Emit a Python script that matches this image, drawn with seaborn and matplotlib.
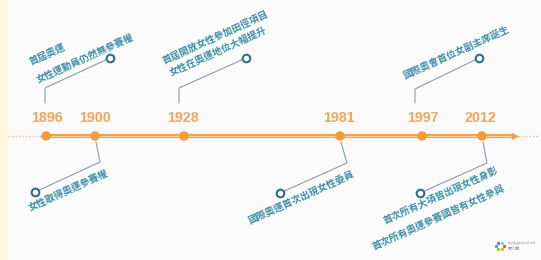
import math
import matplotlib
matplotlib.use("Agg")
import matplotlib.pyplot as plt
import seaborn as sns
import pandas as pd

# timeline content
years = [1896, 1900, 1928, 1981, 1997, 2012]
events = [
    ["首屆奧運", "女性運動員仍然無參賽權"],
    ["女性取得奧運參賽權"],
    ["首屆開放女性參加田徑項目", "女性在奧運地位大幅提升"],
    ["國際奧運首次出現女性委員"],
    ["國際奧會首位女副主席誕生"],
    ["首次所有大項皆出現女性身影", "首次所有奧運參賽國皆有女性參與"],
]
sides = ["up", "down", "up", "down", "up", "down"]

# layout (pixel coords of the infographic)
AXIS_Y = 136
dot_x = [46, 95, 184, 340, 422, 482]
label_x = [47, 95, 183, 339, 423, 480]
elbows = [(45, 88), (100, 162), (179, 88), (347, 163), (415, 89), (487, 163)]
circles = [(110, 58), (35, 192), (246, 58), (280, 193), (479, 58), (420, 193)]
text_anchors = [
    [(32, 67), (39, 85)],
    [(31, 213)],
    [(165, 66), (172, 78)],
    [(251, 226)],
    [(406, 81)],
    [(386, 226), (375, 252)],
]

ORANGE = "#F5A04A"
TEAL = "#3C8FA5"
RING = "#2F6E84"
LEADER = "#8E9CA4"
TEXT_ANGLE = 24.5

sns.set_theme(style="white")
plt.rcParams['font.family'] = ['Noto Sans CJK TC', 'DejaVu Sans']

fig = plt.figure(figsize=(5.41, 2.60), dpi=100)
fig.patch.set_facecolor("#FBFBFC")
ax = fig.add_axes([0, 0, 1, 1])
ax.set_xlim(0, 541)
ax.set_ylim(260, 0)
ax.axis("off")

# pale yellow strip at the left edge
ax.axvspan(0, 7, color="#FFF7DA", zorder=0)

# main axis line with arrow, dotted ends
ax.plot([8, 44], [AXIS_Y, AXIS_Y], color="#E3B892", lw=1, ls=(0, (1, 1.5)), zorder=1)
ax.plot([515, 538], [AXIS_Y, AXIS_Y], color="#E3B892", lw=1, ls=(0, (1, 1.5)), zorder=1)
ax.plot([44, 512], [AXIS_Y, AXIS_Y], color=ORANGE, lw=3.0, solid_capstyle="butt", zorder=2)
ax.plot([44, 512], [AXIS_Y, AXIS_Y], color="#FBD4A6", lw=0.7, zorder=2)
ax.scatter([515], [AXIS_Y], marker=">", s=28, color=ORANGE, zorder=3, linewidths=0)

df = pd.DataFrame({"x": dot_x, "y": [AXIS_Y] * len(dot_x), "year": years})
sns.scatterplot(data=df, x="x", y="y", s=46, color="#F39A3B", edgecolor="none", ax=ax, zorder=4)

for yr, lx in zip(years, label_x):
    ax.text(lx, 118, str(yr), ha="center", va="center", fontsize=10.3, fontweight="bold",
            color="#F2A55A", family="Liberation Sans")

# callouts
for i, side in enumerate(sides):
    ex, ey = elbows[i]
    cx, cy = circles[i]
    if side == "up":
        sx, sy = ex, 103
    else:
        sx, sy = dot_x[i] + 1, 142
    ax.plot([sx, ex, cx], [sy, ey, cy], color=LEADER, lw=0.8, zorder=2)
    for line, (tx, ty) in zip(events[i], text_anchors[i]):
        ax.text(tx, ty, line, rotation=TEXT_ANGLE, rotation_mode="anchor", ha="left", va="bottom",
                fontsize=6.9, fontweight="bold", color=TEAL, zorder=5)

cdf = pd.DataFrame({"x": [c[0] for c in circles], "y": [c[1] for c in circles]})
sns.scatterplot(data=cdf, x="x", y="y", s=30, facecolor="white", edgecolor=RING, linewidth=1.5, ax=ax, zorder=6)

# small watermark logo
logo_cols = ["#E94B3C", "#F5A623", "#7ED321", "#4A90E2", "#9B59B6", "#50E3C2"]
for k, c in enumerate(logo_cols):
    a = 2 * math.pi * k / len(logo_cols)
    ax.scatter([500 + 4 * math.cos(a)], [246 + 4 * math.sin(a)], s=5, color=c, linewidths=0, zorder=3)
ax.text(508, 243, "readyground.net", fontsize=2.6, color="#8A8A8A", va="center")
ax.text(508, 249, "眾人觀", fontsize=3, color="#8A8A8A", va="center")

ax.set_xlabel("")
ax.set_ylabel("")
fig.savefig("out.png", dpi=100, facecolor=fig.get_facecolor())
